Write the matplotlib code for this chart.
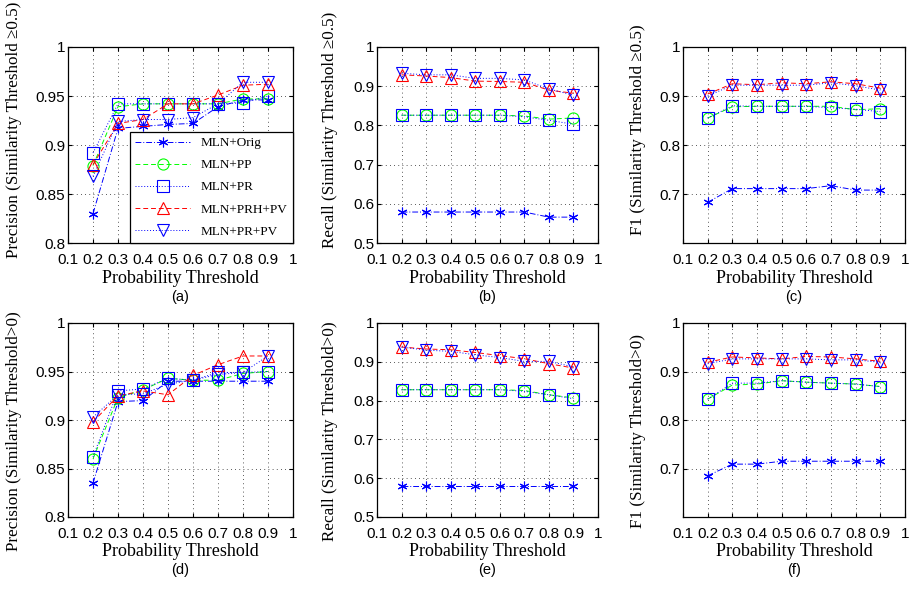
import numpy as np
import matplotlib
matplotlib.use('Agg')
import matplotlib.pyplot as plt

# x values (probability threshold)
thresholds = [0.2, 0.3, 0.4, 0.5, 0.6, 0.7, 0.8, 0.9]
methods = ['MLN+Orig', 'MLN+PP', 'MLN+PR', 'MLN+PRH+PV', 'MLN+PR+PV']

# (a) precision, similarity threshold >= 0.5
prec_05_orig = [0.830, 0.917, 0.919, 0.921, 0.922, 0.939, 0.946, 0.946]
prec_05_pp = [0.879, 0.939, 0.942, 0.942, 0.942, 0.942, 0.947, 0.947]
prec_05_pr = [0.892, 0.942, 0.942, 0.942, 0.942, 0.942, 0.943, 0.950]
prec_05_prhpv = [0.880, 0.922, 0.926, 0.942, 0.942, 0.951, 0.961, 0.962]
prec_05_prpv = [0.868, 0.924, 0.926, 0.926, 0.928, 0.942, 0.964, 0.964]

# (b) recall, similarity threshold >= 0.5
rec_05_orig = [0.579, 0.579, 0.579, 0.579, 0.579, 0.579, 0.566, 0.566]
rec_05_pp = [0.826, 0.826, 0.826, 0.826, 0.826, 0.824, 0.816, 0.819]
rec_05_pr = [0.826, 0.826, 0.826, 0.826, 0.826, 0.822, 0.813, 0.803]
rec_05_prhpv = [0.929, 0.926, 0.922, 0.913, 0.912, 0.910, 0.890, 0.882]
rec_05_prpv = [0.933, 0.929, 0.929, 0.920, 0.920, 0.916, 0.893, 0.877]

# (c) F1, similarity threshold >= 0.5
f1_05_orig = [0.683, 0.711, 0.711, 0.711, 0.711, 0.717, 0.708, 0.708]
f1_05_pp = [0.855, 0.878, 0.879, 0.879, 0.879, 0.879, 0.872, 0.874]
f1_05_pr = [0.855, 0.880, 0.879, 0.879, 0.879, 0.876, 0.873, 0.868]
f1_05_prhpv = [0.904, 0.925, 0.923, 0.927, 0.925, 0.929, 0.925, 0.916]
f1_05_prpv = [0.900, 0.922, 0.922, 0.922, 0.922, 0.927, 0.921, 0.912]

# (d) precision, similarity threshold > 0
prec_0_orig = [0.835, 0.919, 0.920, 0.940, 0.940, 0.940, 0.940, 0.940]
prec_0_pp = [0.860, 0.923, 0.931, 0.943, 0.941, 0.941, 0.948, 0.950]
prec_0_pr = [0.862, 0.930, 0.932, 0.943, 0.941, 0.947, 0.949, 0.950]
prec_0_prhpv = [0.898, 0.925, 0.930, 0.926, 0.946, 0.957, 0.966, 0.966]
prec_0_prpv = [0.903, 0.926, 0.927, 0.937, 0.941, 0.949, 0.949, 0.966]

# (e) recall, similarity threshold > 0
rec_0_orig = [0.579, 0.579, 0.579, 0.579, 0.579, 0.579, 0.579, 0.579]
rec_0_pp = [0.828, 0.828, 0.828, 0.828, 0.828, 0.826, 0.815, 0.807]
rec_0_pr = [0.828, 0.828, 0.828, 0.828, 0.828, 0.824, 0.815, 0.805]
rec_0_prhpv = [0.938, 0.933, 0.931, 0.924, 0.916, 0.908, 0.895, 0.884]
rec_0_prpv = [0.938, 0.930, 0.927, 0.918, 0.911, 0.901, 0.901, 0.887]

# (f) F1, similarity threshold > 0
f1_0_orig = [0.685, 0.709, 0.709, 0.715, 0.715, 0.715, 0.715, 0.715]
f1_0_pp = [0.843, 0.872, 0.874, 0.881, 0.878, 0.876, 0.874, 0.869]
f1_0_pr = [0.843, 0.876, 0.876, 0.881, 0.878, 0.876, 0.874, 0.869]
f1_0_prhpv = [0.919, 0.930, 0.928, 0.926, 0.931, 0.930, 0.926, 0.921]
f1_0_prpv = [0.916, 0.926, 0.926, 0.926, 0.926, 0.924, 0.924, 0.919]

# MATLAB-like styles: colour, line style, marker
styles = [('b', (0, (6, 2, 1, 2)), (6, 2, 0)), ('#00ff00', (0, (5, 3)), 'o'),
          ('b', (0, (1, 2)), 's'), ('r', (0, (5, 3)), '^'),
          ('b', (0, (1, 2)), 'v')]

serif = ['Liberation Serif', 'DejaVu Serif']
sans = ['Liberation Sans', 'DejaVu Sans']

W, H = 915, 594
fig = plt.figure(figsize=(W / 100, H / 100), dpi=100)

col_px = [(68, 293), (377, 598), (683, 905)]
row_px = [(47, 243), (323, 517)]
# y-label anchor: right edge x per column, centre y per row (pixels)
ylab_x = [22, 338, 646]
ylab_y = [130, 431]

panels = [
    (0, 0, [prec_05_orig, prec_05_pp, prec_05_pr, prec_05_prhpv, prec_05_prpv],
     'Precision (Similarity Threshold \u22650.5)', (0.8, 1.0),
     [0.8, 0.85, 0.9, 0.95, 1.0], ['0.8', '0.85', '0.9', '0.95', '1'], '(a)'),
    (0, 1, [rec_05_orig, rec_05_pp, rec_05_pr, rec_05_prhpv, rec_05_prpv],
     'Recall (Similarity Threshold \u22650.5)', (0.5, 1.0),
     [0.5, 0.6, 0.7, 0.8, 0.9, 1.0], ['0.5', '0.6', '0.7', '0.8', '0.9', '1'], '(b)'),
    (0, 2, [f1_05_orig, f1_05_pp, f1_05_pr, f1_05_prhpv, f1_05_prpv],
     'F1 (Similarity Threshold \u22650.5)', (0.6, 1.0),
     [0.7, 0.8, 0.9, 1.0], ['0.7', '0.8', '0.9', '1'], '(c)'),
    (1, 0, [prec_0_orig, prec_0_pp, prec_0_pr, prec_0_prhpv, prec_0_prpv],
     'Precision (Similarity Threshold>0)', (0.8, 1.0),
     [0.8, 0.85, 0.9, 0.95, 1.0], ['0.8', '0.85', '0.9', '0.95', '1'], '(d)'),
    (1, 1, [rec_0_orig, rec_0_pp, rec_0_pr, rec_0_prhpv, rec_0_prpv],
     'Recall (Similarity Threshold>0)', (0.5, 1.0),
     [0.5, 0.6, 0.7, 0.8, 0.9, 1.0], ['0.5', '0.6', '0.7', '0.8', '0.9', '1'], '(e)'),
    (1, 2, [f1_0_orig, f1_0_pp, f1_0_pr, f1_0_prhpv, f1_0_prpv],
     'F1 (Similarity Threshold>0)', (0.6, 1.0),
     [0.7, 0.8, 0.9, 1.0], ['0.7', '0.8', '0.9', '1'], '(f)'),
]

xticks = [0.1, 0.2, 0.3, 0.4, 0.5, 0.6, 0.7, 0.8, 0.9, 1.0]
xticklabels = ['0.1', '0.2', '0.3', '0.4', '0.5', '0.6', '0.7', '0.8', '0.9', '1']

for row, col, series, ylabel, ylim, yticks, yticklabels, tag in panels:
    x0, x1 = col_px[col]
    y0, y1 = row_px[row]
    ax = fig.add_axes([x0 / W, 1 - y1 / H, (x1 - x0) / W, (y1 - y0) / H])
    for vals, name, (c, ls, m) in zip(series, methods, styles):
        ax.plot(thresholds, vals, color=c, linestyle=ls, marker=m,
                markersize=8 if m != (6, 2, 0) else 7,
                markerfacecolor='none', markeredgecolor=c,
                markeredgewidth=0.8, linewidth=0.7, label=name)
    ax.set_xlim(0.1, 1.0)
    ax.set_ylim(*ylim)
    ax.set_xticks(xticks)
    ax.set_xticklabels(xticklabels, family=sans, fontsize=11)
    ax.set_yticks(yticks)
    ax.set_yticklabels(yticklabels, family=sans, fontsize=11)
    ax.tick_params(axis='x', direction='in', top=True, length=3, pad=7)
    ax.tick_params(axis='y', direction='in', right=True, length=3, pad=2)
    ax.grid(True, color='#222222', linestyle=(0, (1, 4)), linewidth=0.6)
    ax.set_xlabel('Probability Threshold', family=serif, fontsize=13, labelpad=2)
    ax.set_ylabel(ylabel, family=serif, fontsize=12.3)
    ax.yaxis.set_label_coords((ylab_x[col] - x0) / (x1 - x0),
                              (y1 - ylab_y[row]) / (y1 - y0))
    ax.text(0.5, -0.275, tag, transform=ax.transAxes, ha='center', va='center',
            family=sans, fontsize=10.5)
    for s in ax.spines.values():
        s.set_linewidth(0.9)
    if tag == '(a)':
        leg = ax.legend(loc='lower right', borderaxespad=0, fancybox=False,
                        framealpha=1, edgecolor='black', handlelength=4.2,
                        prop={'family': serif, 'size': 9.5}, labelspacing=0.75)
        leg.get_frame().set_linewidth(0.9)

fig.savefig('out.png', dpi=100)
